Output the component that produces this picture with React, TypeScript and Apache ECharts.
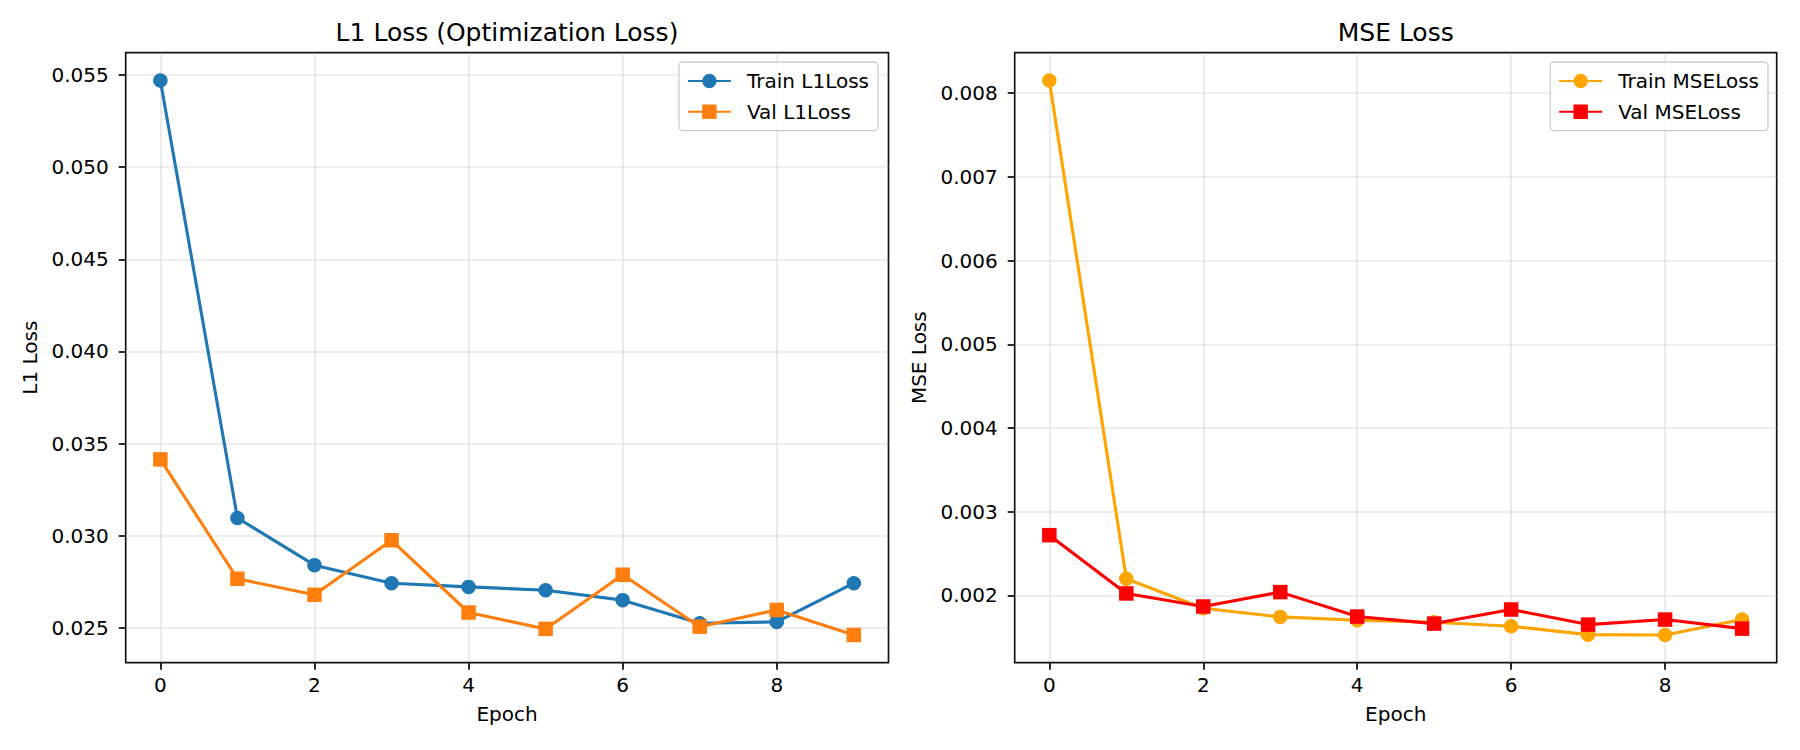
import React, { useEffect, useRef } from "react";
import * as echarts from "echarts";

const epochs = [0, 1, 2, 3, 4, 5, 6, 7, 8, 9];
const xTicks = [0, 2, 4, 6, 8];

const trainL1 = [0.05471, 0.03096, 0.0284, 0.02742, 0.02722, 0.02704, 0.0265, 0.02525, 0.02532, 0.02742];
const valL1 = [0.03414, 0.02766, 0.02679, 0.02975, 0.02583, 0.02494, 0.02788, 0.02506, 0.02597, 0.02461];
const l1Ticks = [0.025, 0.03, 0.035, 0.04, 0.045, 0.05, 0.055];

const trainMSE = [0.008151, 0.0022, 0.001848, 0.001744, 0.001704, 0.00168, 0.001632, 0.001532, 0.001528, 0.001712];
const valMSE = [0.00272, 0.002024, 0.001868, 0.00204, 0.001748, 0.001664, 0.001832, 0.001652, 0.001712, 0.001604];
const mseTicks = [0.002, 0.003, 0.004, 0.005, 0.006, 0.007, 0.008];

const titles = ["L1 Loss (Optimization Loss)", "MSE Loss"];
const yNames = ["L1 Loss", "MSE Loss"];
const xName = "Epoch";
const seriesNames = ["Train L1Loss", "Val L1Loss", "Train MSELoss", "Val MSELoss"];
const colors = ["#1f77b4", "#ff7f0e", "#ffa500", "#ff0000"];

const FONT = "DejaVu Sans";

function padRange(arrs: number[][]) {
  const all = arrs.flat();
  const lo = Math.min(...all);
  const hi = Math.max(...all);
  const p = (hi - lo) * 0.05;
  return [lo - p, hi + p];
}

export default function App() {
  const ref = useRef<HTMLDivElement>(null);
  useEffect(() => {
    if (!ref.current) return;
    const chart = echarts.init(ref.current, null, { renderer: "svg" });
    const xr = padRange([epochs]);
    const l1r = padRange([trainL1, valL1]);
    const mr = padRange([trainMSE, valMSE]);
    const grids = [
      { left: 125.7, top: 52.7, width: 762.8, height: 610 },
      { left: 1014.7, top: 52.7, width: 762, height: 610 },
    ];
    const tickStyle = { show: true, inside: false, length: 7, lineStyle: { color: "#000", width: 1.67 } };
    const split = { show: true, lineStyle: { color: "#b0b0b0", opacity: 0.3, width: 1.6 } };
    const xAxis = [0, 1].map((i) => ({
      type: "value",
      gridIndex: i,
      position: "bottom",
      min: xr[0],
      max: xr[1],
      name: xName,
      nameLocation: "middle",
      nameGap: 41,
      nameTextStyle: { fontFamily: FONT, fontSize: 20, color: "#000" },
      axisLine: { show: false, onZero: false },
      axisTick: { ...tickStyle, customValues: xTicks },
      axisLabel: {
        customValues: xTicks,
        fontFamily: FONT,
        fontSize: 20,
        color: "#000",
        margin: 12,
        formatter: (v: number) => String(v),
      },
      splitLine: split,
    }));
    const yAxis = [
      { r: l1r, ticks: l1Ticks, name: yNames[0] },
      { r: mr, ticks: mseTicks, name: yNames[1] },
    ].map((a, i) => ({
      type: "value",
      gridIndex: i,
      position: "left",
      min: a.r[0],
      max: a.r[1],
      name: a.name,
      nameLocation: "middle",
      nameGap: 86,
      nameTextStyle: { fontFamily: FONT, fontSize: 20, color: "#000" },
      axisLine: { show: false, onZero: false },
      axisTick: { ...tickStyle, customValues: a.ticks },
      axisLabel: {
        customValues: a.ticks,
        fontFamily: FONT,
        fontSize: 20,
        color: "#000",
        margin: 17,
        formatter: (v: number) => v.toFixed(3),
      },
      splitLine: split,
    }));
    const datas = [trainL1, valL1, trainMSE, valMSE];
    const series = datas.map((d, k) => ({
      type: "line",
      name: seriesNames[k],
      xAxisIndex: k < 2 ? 0 : 1,
      yAxisIndex: k < 2 ? 0 : 1,
      data: epochs.map((e, j) => [e, d[j]]),
      symbol: k % 2 === 0 ? "circle" : "rect",
      symbolSize: 14.5,
      showSymbol: true,
      lineStyle: { color: colors[k], width: 3.1 },
      itemStyle: { color: colors[k] },
      z: 2 + k,
    }));
    const legendBase = {
      orient: "vertical",
      top: 62,
      padding: [9, 9, 9, 8],
      itemWidth: 43,
      itemHeight: 18,
      itemGap: 10.7,
      borderColor: "#cccccc",
      borderWidth: 1.3,
      borderRadius: 4,
      backgroundColor: "rgba(255,255,255,0.8)",
      textStyle: { fontFamily: FONT, fontSize: 20, color: "#000", padding: [0, 0, 0, 11] },
      selectedMode: false,
    };
    chart.setOption({
      animation: false,
      backgroundColor: "#fff",
      grid: grids.map((g) => ({ ...g, show: true, borderColor: "#111", borderWidth: 1.67, backgroundColor: "transparent" })),
      xAxis,
      yAxis,
      legend: [
        { ...legendBase, right: 922, data: [seriesNames[0], seriesNames[1]] },
        { ...legendBase, right: 32, data: [seriesNames[2], seriesNames[3]] },
      ],
      graphic: [
        {
          type: "text",
          x: 507,
          y: 32.5,
          style: { text: titles[0], fontFamily: FONT, fontSize: 25, fill: "#000", align: "center", verticalAlign: "middle" },
        },
        {
          type: "text",
          x: 1395.7,
          y: 32.5,
          style: { text: titles[1], fontFamily: FONT, fontSize: 25, fill: "#000", align: "center", verticalAlign: "middle" },
        },
      ],
      series,
    });
    return () => chart.dispose();
  }, []);
  return <div ref={ref} style={{ position: "absolute", left: 0, top: 0, width: 1800, height: 750 }} />;
}
